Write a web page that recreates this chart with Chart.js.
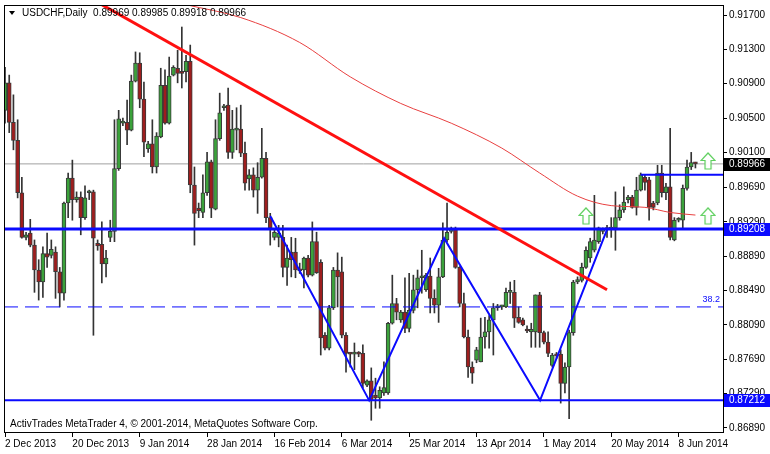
<!DOCTYPE html>
<html>
<head>
<meta charset="utf-8">
<script src="https://cdn.jsdelivr.net/npm/chart.js@4.4.0/dist/chart.umd.min.js"></script>
<style>
  html, body { margin: 0; padding: 0; background: #fff; }
  #wrap { width: 770px; height: 454px; }
</style>
</head>
<body>
<div id="wrap"><canvas id="chart" width="770" height="454"></canvas></div>
<script>
// USDCHF daily bars, one per trading day starting 2 Dec 2013
const opens = [
  .9059,.9091,.9045,.9024,.8963,.8911,.8916,.8902,.8873,.8859,.8892,.8890,.8894,.8871,.8846,.8951,.8980,.8955,.8958,.8934,
  .8963,.8964,.8904,.8903,.8880,.8911,.8918,.8991,.9044,.9045,.9036,.9093,.9114,.9072,.9014,.9020,.8993,.9028,.9088,.9044,
  .9100,.9108,.9104,.9104,.9116,.8972,.8945,.8940,.8963,.8999,.8944,.9026,.9062,.9065,.9010,.9036,.9037,.9009,.8979,.8984,
  .8966,.8981,.9003,.8934,.8911,.8911,.8911,.8876,.8894,.8894,.8873,.8873,.8887,.8867,.8906,.8882,.8797,.8782,.8829,.8873,
  .8871,.8797,.8776,.8775,.8776,.8776,.8739,.8744,.8727,.8724,.8730,.8730,.8811,.8834,.8815,.8824,.8805,.8826,.8850,.8864,
  .8850,.8866,.8840,.8832,.8865,.8908,.8918,.8921,.8876,.8834,.8795,.8760,.8768,.8766,.8795,.8801,.8815,.8829,.8830,.8830,
  .8847,.8847,.8818,.8815,.8804,.8801,.8801,.8844,.8800,.8789,.8762,.8774,.8775,.8741,.8760,.8800,.8859,.8861,.8876,.8887,
  .8896,.8906,.8918,.8920,.8920,.8922,.8934,.8943,.8955,.8958,.8946,.8966,.8981,.8978,.8951,.8951,.8986,.8963,.8970,.8908,
  .8931,.8931,.8968,.8993,.89969
];
const highs = [
  .9109,.9100,.9077,.9048,.8981,.8917,.8932,.8908,.8885,.8900,.8916,.8908,.8900,.8876,.8952,.8986,.9001,.8964,.8964,.8971,
  .8966,.8966,.8908,.8929,.8896,.8931,.9048,.9059,.9050,.9071,.9100,.9127,.9126,.9092,.9023,.9048,.9033,.9108,.9106,.9121,
  .9111,.9129,.9156,.9123,.9135,.8993,.8951,.8984,.9010,.9001,.9048,.9079,.9066,.9085,.9059,.9062,.9065,.9022,.8990,.8992,
  .8998,.9038,.9010,.8939,.8921,.8925,.8925,.8902,.8911,.8910,.8881,.8888,.8890,.8929,.8917,.8885,.8800,.8832,.8876,.8893,
  .8888,.8800,.8777,.8788,.8778,.8786,.8745,.8759,.8747,.8737,.8766,.8812,.8867,.8840,.8826,.8864,.8869,.8867,.8873,.8896,
  .8869,.8887,.8850,.8875,.8928,.8951,.8923,.8923,.8877,.8846,.8803,.8766,.8783,.8817,.8818,.8820,.8834,.8833,.8832,.8852,
  .8859,.8861,.8830,.8817,.8808,.8811,.8844,.8847,.8802,.8801,.8776,.8777,.8780,.8765,.8803,.8861,.8865,.8881,.8900,.8910,
  .8960,.8923,.8922,.8925,.8934,.8964,.8949,.8970,.8960,.8960,.8981,.8986,.8984,.8981,.8953,.8995,.8995,.8974,.9038,.8934,
  .8934,.8972,.9001,.9010,.89985
];
const lows = [
  .9044,.9033,.9013,.8957,.8910,.8908,.8900,.8847,.8838,.8841,.8876,.8887,.8840,.8830,.8838,.8934,.8931,.8952,.8914,.8932,
  .8955,.8797,.8896,.8858,.8865,.8906,.8906,.8989,.9041,.9019,.9035,.9092,.9062,.9005,.9010,.8986,.8986,.9027,.9043,.9043,
  .9099,.9091,.9085,.9092,.8963,.8902,.8934,.8934,.8960,.8934,.8943,.9024,.9059,.9003,.9003,.9013,.9005,.8966,.8966,.8958,
  .8939,.8980,.8928,.8902,.8908,.8900,.8865,.8855,.8865,.8864,.8869,.8852,.8865,.8866,.8869,.8774,.8780,.8780,.8827,.8830,
  .8794,.8754,.8760,.8757,.8772,.8736,.8737,.8698,.8712,.8712,.8727,.8728,.8810,.8815,.8812,.8800,.8801,.8823,.8829,.8846,
  .8848,.8823,.8823,.8812,.8864,.8906,.8916,.8875,.8830,.8794,.8748,.8741,.8765,.8766,.8782,.8782,.8774,.8826,.8827,.8829,
  .8834,.8806,.8811,.8808,.8800,.8783,.8783,.8783,.8787,.8772,.8760,.8770,.8718,.8730,.8700,.8797,.8857,.8859,.8875,.8882,
  .8894,.8904,.8915,.8911,.8911,.8896,.8931,.8940,.8951,.8945,.8937,.8965,.8966,.8931,.8943,.8949,.8958,.8955,.8908,.8907,
  .8929,.8920,.8966,.8990,.89918
];
const closes = [
  .9091,.9045,.9024,.8963,.8911,.8914,.8902,.8873,.8859,.8892,.8888,.8897,.8871,.8846,.8951,.8980,.8955,.8958,.8934,.8957,
  .8964,.8910,.8901,.8880,.8887,.8918,.8991,.9049,.9045,.9036,.9093,.9114,.9072,.9022,.9020,.8993,.9029,.9088,.9044,.9099,
  .9109,.9102,.9102,.9116,.8972,.8939,.8942,.8963,.8999,.8945,.9026,.9056,.9064,.9010,.9037,.9037,.9009,.8974,.8984,.8966,
  .8981,.9003,.8934,.8922,.8917,.8916,.8876,.8887,.8885,.8873,.8872,.8887,.8867,.8906,.8870,.8794,.8782,.8829,.8873,.8865,
  .8797,.8776,.8775,.8776,.8775,.8741,.8744,.8721,.8724,.8733,.8736,.8811,.8834,.8824,.8824,.8805,.8826,.8850,.8864,.8865,
  .8867,.8840,.8832,.8865,.8908,.8917,.8920,.8876,.8834,.8795,.8760,.8753,.8780,.8795,.8801,.8815,.8829,.8830,.8830,.8847,
  .8848,.8817,.8812,.8809,.8802,.8804,.8844,.8800,.8789,.8776,.8774,.8773,.8741,.8760,.8800,.8859,.8862,.8876,.8896,.8906,
  .8908,.8922,.8920,.8922,.8923,.8934,.8943,.8952,.8958,.8946,.8966,.8984,.8975,.8946,.8946,.8986,.8963,.8970,.8911,.8931,
  .8932,.8968,.8993,.8998,.89966
];

// bottom axis: bar index of each date label
const tickIndex = [0, 16, 32, 48, 64, 80, 96, 112, 128, 144, 160];
const tickLabels = ["2 Dec 2013", "20 Dec 2013", "9 Jan 2014", "28 Jan 2014", "16 Feb 2014", "6 Mar 2014",
  "25 Mar 2014", "13 Apr 2014", "1 May 2014", "20 May 2014", "8 Jun 2014"];
const priceTicks = [0.917, 0.913, 0.909, 0.905, 0.901, 0.8969, 0.8929, 0.8889, 0.8849, 0.8809, 0.8769, 0.8729, 0.8689];

// drawn objects
const trendX = [23, 143];
const trendY = [0.9182, 0.8850];
const maX = [43, 56, 70, 82, 94, 106, 118, 127, 136, 144, 152, 158, 164];
const maY = [0.9182, 0.9167, 0.9138, 0.9098, 0.9067, 0.9044, 0.9015, 0.8986, 0.8959, 0.8948, 0.8946, 0.8940, 0.8937];
const zigX = [63, 86.5, 104.3, 127.1, 143];
const zigY = [0.8936, 0.87212, 0.8910, 0.87212, 0.8920];
const support = 0.87212;
const resist = 0.89208;
const topLine = 0.8984, topLineFrom = 151;
const fibo = 0.8830, fiboLabel = "38.2";
const bid = 0.89966;
const arrowX = [138, 167, 167];
const arrowY = [0.8936, 0.9000, 0.8936];

const X_MIN = -0.24, X_MAX = 170.55;
const BLUE = "#0a0aff";
const FONT = "Liberation Sans";

const isUp = opens.map((o, i) => closes[i] >= o);

// hollow green up-arrow used as point style
const arrowImg = document.createElement("canvas");
arrowImg.width = 16;
arrowImg.height = 18;
(() => {
  const c = arrowImg.getContext("2d");
  c.beginPath();
  c.moveTo(8, 1); c.lineTo(15, 8.5); c.lineTo(11, 8.5); c.lineTo(11, 17);
  c.lineTo(5, 17); c.lineTo(5, 8.5); c.lineTo(1, 8.5); c.closePath();
  c.fillStyle = "#fff";
  c.fill();
  c.strokeStyle = "#5ccf5c";
  c.lineWidth = 1.2;
  c.stroke();
})();

const hLine = (y, from) => [{ x: from === undefined ? X_MIN : from, y: y }, { x: X_MAX, y: y }];

const overlay = {
  id: "overlay",
  afterDraw(chart) {
    const ctx = chart.ctx;
    const a = chart.chartArea;
    const ys = chart.scales.y;
    ctx.save();
    // frame
    ctx.strokeStyle = "#000";
    ctx.lineWidth = 1;
    ctx.strokeRect(a.left + 0.5, a.top + 0.5, a.right - a.left, a.bottom - a.top);

    // header
    ctx.fillStyle = "#000";
    ctx.beginPath();
    ctx.moveTo(9, 11); ctx.lineTo(15, 11); ctx.lineTo(12, 15); ctx.closePath();
    ctx.fill();
    ctx.font = "10px " + FONT;
    ctx.textBaseline = "middle";
    ctx.textAlign = "left";
    const last = opens.length - 1;
    ctx.fillText("USDCHF,Daily  " + [opens[last], highs[last], lows[last], closes[last]].map(v => v.toFixed(5)).join(" "), 22, 13);
    ctx.fillText("ActivTrades MetaTrader 4, \u00a9 2001-2014, MetaQuotes Software Corp.", 10, 424);

    // fibo level text
    ctx.fillStyle = BLUE;
    ctx.font = "9px " + FONT;
    ctx.textAlign = "right";
    ctx.fillText(fiboLabel, a.right - 3, ys.getPixelForValue(fibo) - 7);

    // price boxes on the axis
    const box = (v, bg) => {
      const y = Math.round(ys.getPixelForValue(v));
      ctx.fillStyle = bg;
      ctx.fillRect(a.right + 1, y - 6, chart.width - a.right - 1, 13);
      ctx.fillStyle = "#fff";
      ctx.font = "10px " + FONT;
      ctx.textAlign = "left";
      ctx.fillText(v.toFixed(5), a.right + 6, y + 0.5);
    };
    box(resist, BLUE);
    box(support, BLUE);
    box(bid, "#000");
    ctx.restore();
  }
};

new Chart(document.getElementById("chart"), {
  type: "bar",
  data: {
    datasets: [
      {
        type: "line",
        data: arrowX.map((x, i) => ({ x: x, y: arrowY[i] })),
        showLine: false,
        pointStyle: arrowImg,
        pointRadius: 8,
        clip: false,
        order: 0,
      },
      {
        type: "line",
        data: trendX.map((x, i) => ({ x: x, y: trendY[i] })),
        borderColor: "#ff1010",
        borderWidth: 3,
        pointRadius: 0,
        order: 1,
      },
      {
        type: "line",
        data: zigX.map((x, i) => ({ x: x, y: zigY[i] })),
        borderColor: BLUE,
        borderWidth: 2,
        pointRadius: 0,
        order: 1,
      },
      {
        type: "line",
        data: hLine(resist),
        borderColor: BLUE,
        borderWidth: 3,
        pointRadius: 0,
        order: 1,
      },
      {
        type: "line",
        data: hLine(support),
        borderColor: BLUE,
        borderWidth: 2,
        pointRadius: 0,
        order: 1,
      },
      {
        type: "line",
        data: hLine(topLine, topLineFrom),
        borderColor: BLUE,
        borderWidth: 2,
        pointRadius: 0,
        order: 1,
      },
      {
        type: "line",
        data: hLine(fibo),
        borderColor: BLUE,
        borderWidth: 1,
        borderDash: [14, 7],
        pointRadius: 0,
        order: 1,
      },
      {
        type: "line",
        data: maX.map((x, i) => ({ x: x, y: maY[i] })),
        borderColor: "#e84040",
        borderWidth: 1,
        cubicInterpolationMode: "monotone",
        pointRadius: 0,
        order: 1,
      },
      {
        type: "line",
        data: hLine(bid),
        borderColor: "#a0a0a0",
        borderWidth: 1,
        pointRadius: 0,
        order: 4,
      },
      {
        // candle bodies, dark outline like the terminal draws them
        data: opens.map((o, i) => ({ x: i, y: [o, closes[i]] })),
        backgroundColor: isUp.map(u => (u ? "#3ba23b" : "#9e1e1e")),
        borderColor: "#3a3a3a",
        borderWidth: 1,
        borderSkipped: false,
        barThickness: 4,
        minBarLength: 2,
        grouped: false,
        order: 2,
      },
      {
        // wicks
        data: lows.map((l, i) => ({ x: i, y: [l, highs[i]] })),
        backgroundColor: "#333",
        barThickness: 1,
        grouped: false,
        order: 3,
      },
    ],
  },
  options: {
    responsive: false,
    devicePixelRatio: 1,
    animation: false,
    events: [],
    layout: { autoPadding: false, padding: { left: 4, top: 5, right: 0, bottom: 0 } },
    plugins: { legend: { display: false }, tooltip: { enabled: false } },
    scales: {
      x: {
        type: "linear",
        min: X_MIN,
        max: X_MAX,
        offset: false,
        grid: { display: true, drawOnChartArea: false, drawTicks: true, tickLength: 5, color: "#000", offset: false },
        border: { display: true, color: "#000" },
        afterBuildTicks: (s) => { s.ticks = tickIndex.map(v => ({ value: v })); },
        afterFit: (s) => {
          s.height = 22;
          s.paddingLeft = 0;
          s.paddingRight = 0;
        },
        ticks: {
          autoSkip: false,
          maxRotation: 0,
          align: "start",
          padding: 1,
          color: "#000",
          font: { family: FONT, size: 10 },
          callback: (v, i) => tickLabels[i],
        },
      },
      y: {
        position: "right",
        min: 0.868434,
        max: 0.918165,
        grid: { display: true, drawOnChartArea: false, drawTicks: true, tickLength: 4, color: "#000" },
        border: { display: true, color: "#000" },
        afterBuildTicks: (s) => { s.ticks = priceTicks.map(v => ({ value: v })); },
        afterFit: (s) => {
          s.width = 47;
          s.paddingTop = 0;
          s.paddingBottom = 0;
        },
        ticks: {
          padding: 2,
          color: "#000",
          font: { family: FONT, size: 10 },
          callback: (v) => Number(v).toFixed(5),
        },
      },
    },
  },
  plugins: [overlay],
});
</script>
</body>
</html>
